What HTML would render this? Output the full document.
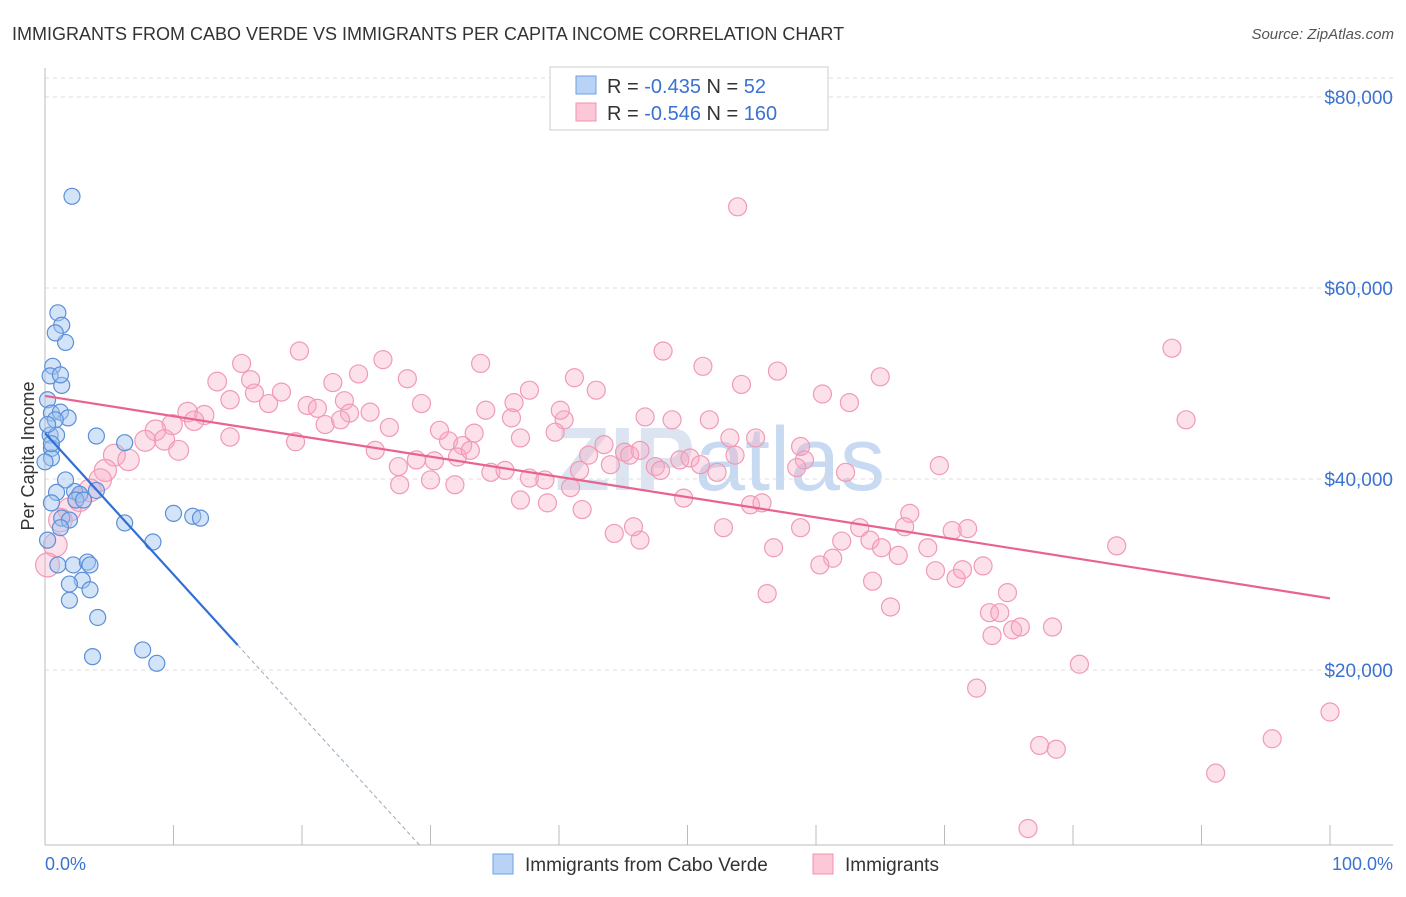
<!DOCTYPE html>
<html><head><meta charset="utf-8"><style>
body{margin:0;background:#fff;font-family:"Liberation Sans",sans-serif}
svg text{font-family:"Liberation Sans",sans-serif}
</style></head><body>
<svg id="chart" width="1406" height="892">
<text x="12" y="40" font-size="18" fill="#333">IMMIGRANTS FROM CABO VERDE VS IMMIGRANTS PER CAPITA INCOME CORRELATION CHART</text>
<text x="1394" y="39" font-size="15" fill="#555" text-anchor="end" font-style="italic">Source: ZipAtlas.com</text>
<text x="720" y="490" font-size="90" fill="#dbe4f0" text-anchor="middle" font-weight="bold">ZIP<tspan fill="#c8daf2" font-weight="normal">atlas</tspan></text>
<g id="grid"></g><g id="axes"></g><g id="pts"></g><g id="lines"></g>
<text transform="translate(34,456) rotate(-90)" font-size="18" fill="#333" text-anchor="middle">Per Capita Income</text>
<g>
<rect x="550" y="67" width="278" height="63" fill="#fff" stroke="#ccc"/>
<rect x="576" y="76" width="20" height="18" fill="#b8d3f5" stroke="#6f9fe0"/>
<rect x="576" y="103" width="20" height="18" fill="#fcc8d8" stroke="#f090ae"/>
<text x="607" y="93" font-size="20" fill="#333">R = <tspan fill="#3a72d0">-0.435</tspan>   N = <tspan fill="#3a72d0">  52</tspan></text>
<text x="607" y="120" font-size="20" fill="#333">R = <tspan fill="#3a72d0">-0.546</tspan>   N = <tspan fill="#3a72d0">160</tspan></text>
</g>
<g>
<rect x="493" y="854" width="20" height="20" fill="#b8d3f5" stroke="#6f9fe0"/>
<text x="525" y="871" font-size="19" fill="#333">Immigrants from Cabo Verde</text>
<rect x="813" y="854" width="20" height="20" fill="#fcc8d8" stroke="#f090ae"/>
<text x="845" y="871" font-size="19" fill="#333">Immigrants</text>
</g>
<text x="45" y="870" font-size="18" fill="#3a72d0">0.0%</text>
<text x="1393" y="870" font-size="18" fill="#3a72d0" text-anchor="end">100.0%</text>
</svg>
<script>
const yTicks=[20000,40000,60000,80000];
const yTickLabels=["$20,000","$40,000","$60,000","$80,000"];
const blueX=[2.1,1.0,1.3,1.6,0.8,0.6,0.4,1.3,1.2,0.2,0.5,1.2,1.8,0.8,0.4,0.9,0.5,0.5,4.0,6.2,0.9,2.3,2.7,2.4,4.0,0.5,1.3,1.9,6.2,10.0,11.5,12.1,8.4,1.0,2.2,3.3,3.5,2.9,1.9,3.5,1.9,4.1,3.7,7.6,8.7,0.2,0.5,0,3.0,1.2,0.2,1.6];
const blueY=[69.6,57.4,56.1,54.3,55.3,51.8,50.8,49.8,50.9,48.3,46.9,47.0,46.4,46.2,44.6,44.6,43.2,42.2,44.5,43.8,38.6,38.7,38.4,37.8,38.8,37.5,35.9,35.7,35.4,36.4,36.1,35.9,33.4,31.0,31.0,31.3,31.0,29.4,29.0,28.4,27.3,25.5,21.4,22.1,20.7,45.7,43.7,41.8,37.8,34.9,33.6,39.9];
const pinkX=[53.9,87.7,48.1,19.8,33.9,26.3,15.3,51.2,57.0,65.0,54.2,41.2,42.9,28.2,24.4,22.4,13.4,16.0,16.3,18.4,17.4,20.4,21.2,23.3,25.3,23.7,29.3,36.5,34.3,36.3,40.4,60.5,62.6,88.8,46.7,48.8,51.7,11.1,12.4,14.4,11.6,9.9,8.6,7.8,9.3,10.4,14.4,19.5,21.8,23.0,26.8,31.4,32.5,33.4,37.0,39.7,43.5,45.1,53.3,55.3,58.8,59.1,5.4,6.5,4.7,4.3,3.5,2.7,1.9,1.2,0.8,0.2,27.5,28.9,30.3,32.1,34.7,37.7,38.9,40.9,42.3,44.0,47.5,49.4,50.2,51.0,52.3,58.5,62.3,69.6,39.1,41.8,44.3,46.3,45.8,49.7,52.8,54.9,55.8,56.7,58.8,61.3,62.0,63.4,64.2,65.1,66.4,67.3,66.9,68.7,69.3,70.6,71.8,70.9,71.4,73.0,73.5,74.3,73.7,74.9,75.3,75.9,78.4,83.4,80.5,72.5,77.4,78.7,95.5,100,91.1,76.5,56.2,65.8,64.4,60.3,53.7,46.3,41.6,37.0,33.1,30.7,25.7,27.6,30.0,31.9,35.8,37.7,40.1,45.5,47.9];
const pinkY=[68.5,53.7,53.4,53.4,52.1,52.5,52.1,51.8,51.3,50.7,49.9,50.6,49.3,50.5,51.0,50.1,50.2,50.4,49.0,49.1,47.9,47.7,47.4,48.2,47.0,46.9,47.9,48.0,47.2,46.4,46.2,48.9,48.0,46.2,46.5,46.2,46.2,47.0,46.7,48.3,46.1,45.7,45.1,44.0,44.1,43.0,44.4,43.9,45.7,46.2,45.4,44.0,43.5,44.8,44.3,44.9,43.6,42.8,44.3,44.3,43.4,42.0,42.5,42.0,40.9,39.9,38.8,37.8,36.8,35.7,33.1,31.0,41.3,42.0,41.9,42.3,40.7,40.1,39.9,39.1,42.5,41.5,41.3,42.0,42.2,41.5,40.7,41.2,40.7,41.4,37.5,36.8,34.3,33.6,35.0,38.0,34.9,37.3,37.5,32.8,34.9,31.7,33.5,34.9,33.6,32.8,32.0,36.4,35.0,32.8,30.4,34.6,34.8,29.6,30.5,30.9,26.0,26.0,23.6,28.1,24.2,24.5,24.5,33.0,20.6,18.1,12.1,11.7,12.8,15.6,9.2,3.4,28.0,26.6,29.3,31.0,42.5,43.0,40.9,37.8,43.0,45.1,43.0,39.4,39.9,39.4,40.9,49.3,47.2,42.5,40.9];
const blueFit=[44.8,-1.48]; // intercept (k$), slope per %
const pinkFit=[48.7,-0.212];
const NS="http://www.w3.org/2000/svg";
const X0=45,X1=1330,Ytop=78,Ybot=845;
const sx=v=>X0+(X1-X0)*v/100;
const sy=v=>861-v*9.55; // v in thousands
function mk(t,a,p){const e=document.createElementNS(NS,t);for(const k in a)e.setAttribute(k,a[k]);p.appendChild(e);return e;}
const grid=document.getElementById('grid'),axes=document.getElementById('axes'),pts=document.getElementById('pts'),lines=document.getElementById('lines');
let gl=mk('line',{x1:X0,x2:1393,y1:Ytop,y2:Ytop,stroke:'#ddd','stroke-dasharray':'4,4'},grid);


yTicks.forEach((t,i)=>{
 const y=sy(t/1000);
 const l=mk('line',{x1:X0,x2:1393,y1:y,y2:y,stroke:'#ddd','stroke-dasharray':'4,4'},grid);
 
 
 const tx=mk('text',{x:1393,y:y+7,'font-size':19,fill:'#3a72d0','text-anchor':'end'},axes);
 tx.textContent=yTickLabels[i];
 
 
});
let ax=mk('line',{x1:X0,x2:X0,y1:68,y2:Ybot,stroke:'#bbb'},axes);


let bx=mk('line',{x1:X0,x2:1393,y1:Ybot,y2:Ybot,stroke:'#bbb'},axes);


for(let i=0;i<=10;i++){const t=mk('line',{x1:sx(i*10),x2:sx(i*10),y1:825,y2:Ybot,stroke:'#bbb'},axes);
 
 }
pinkX.forEach((v,i)=>{
 const r=v<15?12-v*0.2:9;
 const c=mk('circle',{cx:sx(v),cy:sy(pinkY[i]),r:r,fill:'rgba(248,170,195,0.35)',stroke:'#f09ab6','stroke-width':1.2},pts);
 
 
});
blueX.forEach((v,i)=>{
 const c=mk('circle',{cx:sx(v),cy:sy(blueY[i]),r:8,fill:'rgba(160,195,240,0.45)',stroke:'#5b8fd8','stroke-width':1.2},pts);
 
 
});
const pl=mk('line',{x1:sx(0),y1:sy(pinkFit[0]),x2:sx(100),y2:sy(pinkFit[0]+pinkFit[1]*100),stroke:'#e8648f','stroke-width':2.2},lines);


const bEnd=15,bDash=29.2;
const bl=mk('line',{x1:sx(0),y1:sy(blueFit[0]),x2:sx(bEnd),y2:sy(blueFit[0]+blueFit[1]*bEnd),stroke:'#2f6fd6','stroke-width':2.2},lines);


const bd=mk('line',{x1:sx(bEnd),y1:sy(blueFit[0]+blueFit[1]*bEnd),x2:sx(bDash),y2:sy(blueFit[0]+blueFit[1]*bDash),stroke:'#9ab','stroke-width':1,'stroke-dasharray':'4,3'},lines);


</script>
</body></html>
